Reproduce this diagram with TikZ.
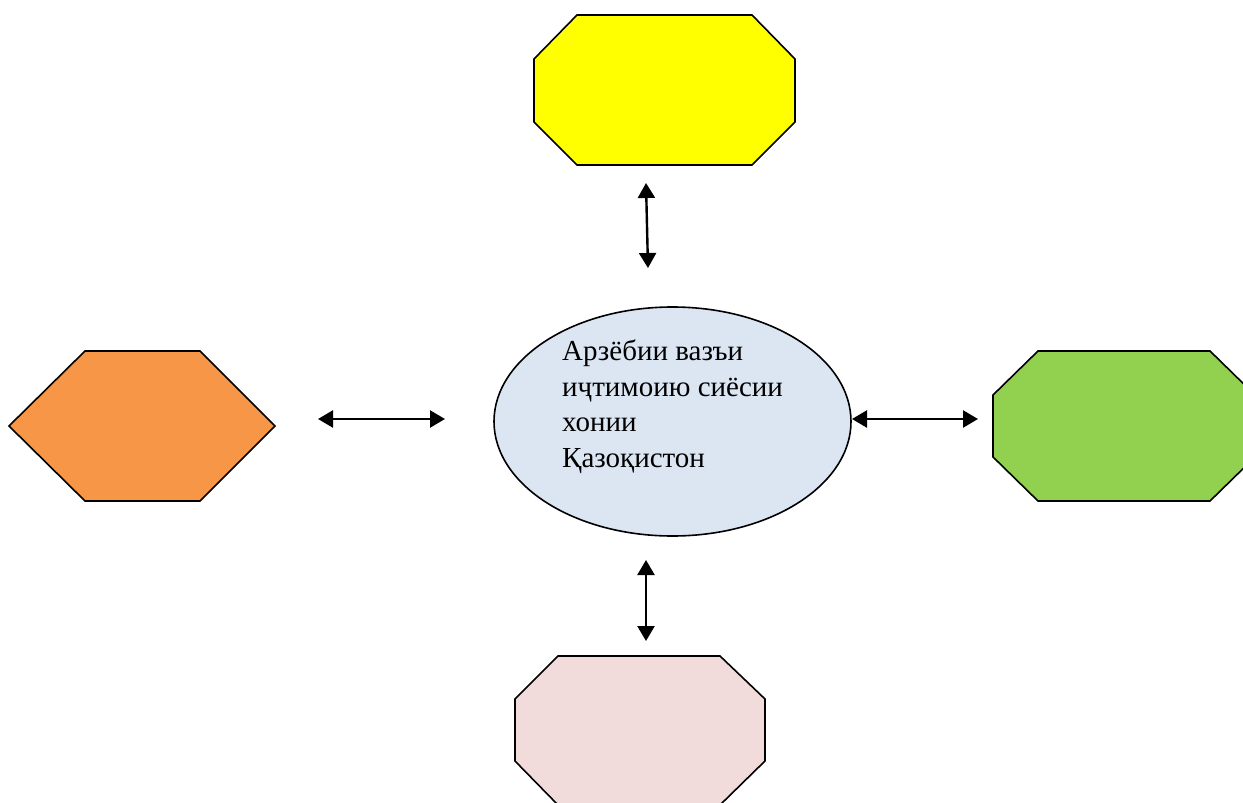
\documentclass[tikz,border=0pt]{standalone}
\usepackage{fontspec}
\setmainfont{Liberation Serif}
\usetikzlibrary{shapes.geometric,arrows.meta}
\definecolor{cyellow}{HTML}{FFFF00}
\definecolor{corange}{HTML}{F79646}
\definecolor{cgreen}{HTML}{92D050}
\definecolor{cpink}{HTML}{F2DCDB}
\definecolor{cblue}{HTML}{DCE6F2}
\tikzset{
  shapeline/.style={draw=black, line width=1.6pt, line join=miter},
  twoway/.style={line width=2.4pt, {Triangle[length=15pt,width=17pt]}-{Triangle[length=15pt,width=17pt]}},
}
\begin{document}
\begin{tikzpicture}[x=1pt,y=-1pt]
\useasboundingbox (0,0) rectangle (1243,803);
\fill[white] (0,0) rectangle (1243,803);
\begin{scope}
\clip (0,0) rectangle (1243,803);
% yellow top octagon
\draw[shapeline, fill=cyellow] (577,15) -- (752,15) -- (795,59) -- (795,122) -- (752,165) -- (577,165) -- (534,122) -- (534,59) -- cycle;
% orange left hexagon
\draw[shapeline, fill=corange] (85,351) -- (200,351) -- (275,426) -- (200,501) -- (85,501) -- (9,426) -- cycle;
% green right octagon
\draw[shapeline, fill=cgreen] (1038,351) -- (1210,351) -- (1255,395) -- (1255,457) -- (1210,501) -- (1038,501) -- (993,457) -- (993,395) -- cycle;
% pink bottom octagon
\draw[shapeline, fill=cpink] (558,656) -- (720,656) -- (765,699) -- (765,761) -- (720,805) -- (558,805) -- (515,761) -- (515,699) -- cycle;
\end{scope}
% central ellipse
\node[ellipse, draw=black, line width=1.6pt, fill=cblue, minimum width=357pt, minimum height=229pt, inner sep=0pt] (centre) at (672.5,421.5) {};
\node[anchor=north west, align=left, inner sep=0pt, font=\fontsize{29}{35.5}\selectfont] (label) at (562,340) {Арзёбии вазъи\\иҷтимоию сиёсии\\хонии\\Қазоқистон};
% arrow end points
\coordinate (topA) at (646,183);
\coordinate (topB) at (648,268);
\coordinate (leftA) at (318,419);
\coordinate (leftB) at (445,419);
\coordinate (rightA) at (852,419);
\coordinate (rightB) at (978,419);
\coordinate (botA) at (646,560);
\coordinate (botB) at (646,641);
\draw[twoway] (topA) -- (topB);
\draw[twoway] (leftA) -- (leftB);
\draw[twoway] (rightA) -- (rightB);
\draw[twoway] (botA) -- (botB);
\end{tikzpicture}
\end{document}
